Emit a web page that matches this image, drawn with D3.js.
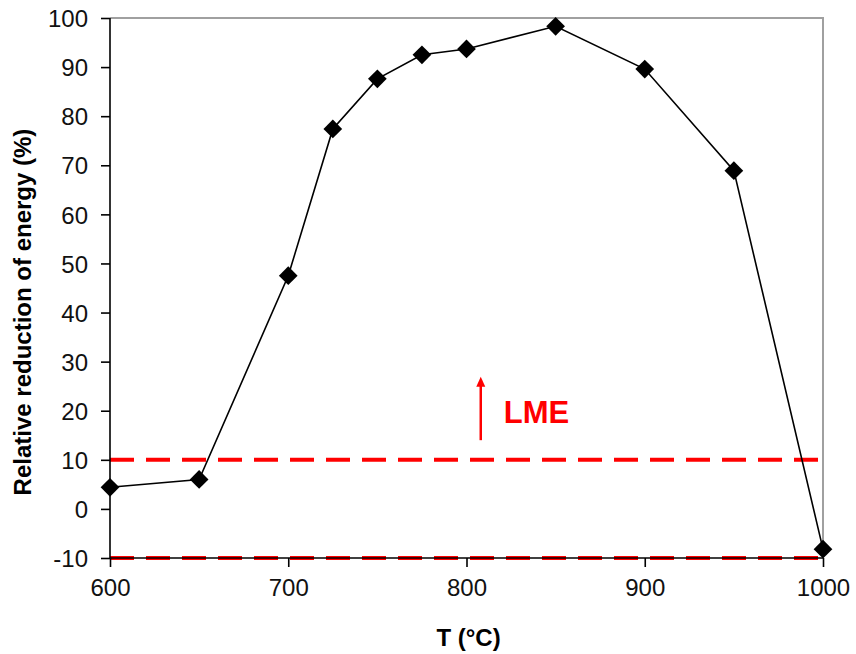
<!DOCTYPE html>
<html>
<head>
<meta charset="utf-8">
<script src="https://cdn.jsdelivr.net/npm/d3@7"></script>
<style>
  html, body { margin: 0; padding: 0; background: #fff; }
  svg { display: block; font-family: "Liberation Sans", Arial, sans-serif; }
</style>
</head>
<body>
<svg id="chart" width="856" height="654"></svg>
<script>
// Data
const temperatures = [600, 650, 700, 725, 750, 775, 800, 850, 900, 950, 1000];
const reduction = [4.4, 6.0, 47.5, 77.4, 87.6, 92.5, 93.7, 98.3, 89.6, 68.9, -8.2];
const xTicks = [600, 700, 800, 900, 1000];
const yTicks = [-10, 0, 10, 20, 30, 40, 50, 60, 70, 80, 90, 100];
const limitLines = [10, -10];
const xTitle = "T (°C)";
const yTitle = "Relative reduction of energy (%)";
const annotation = { label: "LME", x: 808, yFrom: 14, yTo: 26.5 };

const W = 856, H = 654;
const margin = { top: 18, right: 33, bottom: 96, left: 110 };
const svg = d3.select("#chart");
const iw = W - margin.left - margin.right;
const ih = H - margin.top - margin.bottom;
const g = svg.append("g").attr("transform", `translate(${margin.left},${margin.top})`);

const x = d3.scaleLinear().domain([600, 1000]).range([0, iw]);
const y = d3.scaleLinear().domain([-10, 100]).range([ih, 0]);

// frame top/right
g.append("path")
  .attr("d", `M0,0H${iw}V${ih}`)
  .attr("fill", "none").attr("stroke", "#a0a0a0").attr("stroke-width", 2);

// limit lines
g.selectAll(".lim").data(limitLines).join("line")
  .attr("x1", 0).attr("x2", iw - 2)
  .attr("y1", d => y(d)).attr("y2", d => y(d))
  .attr("stroke", "#ff0000").attr("stroke-width", 4)
  .attr("stroke-dasharray", "24 12");

// axes
const fmt = d => String(d);
const xAxis = g.append("g").attr("transform", `translate(0,${ih})`)
  .call(d3.axisBottom(x).tickValues(xTicks).tickSize(9).tickPadding(12).tickFormat(fmt));
const yAxis = g.append("g")
  .call(d3.axisLeft(y).tickValues(yTicks).tickSize(9).tickPadding(13).tickFormat(fmt));
[xAxis, yAxis].forEach(a => {
  a.select(".domain").attr("stroke", "#000").attr("stroke-width", 1.6);
  a.selectAll(".tick line").attr("stroke", "#000").attr("stroke-width", 1.6);
  a.selectAll(".tick text").attr("fill", "#111").attr("font-size", 24)
    .attr("font-family", "Liberation Sans, Arial, sans-serif");
});
yAxis.select(".domain").attr("d", `M0,${ih}V0`);
xAxis.select(".domain").attr("d", `M0,0H${iw}`);
yAxis.selectAll(".tick text").attr("dy", "0.36em");
xAxis.selectAll(".tick text").attr("dy", "0.72em");

// line
const line = d3.line().x((d, i) => x(temperatures[i])).y(d => y(d));
g.append("path").datum(reduction)
  .attr("d", line).attr("fill", "none")
  .attr("stroke", "#000").attr("stroke-width", 1.6);

// markers
g.selectAll(".pt").data(reduction).join("path")
  .attr("d", d3.symbol(d3.symbolSquare, 175)())
  .attr("transform", (d, i) => `translate(${x(temperatures[i])},${y(d)}) rotate(45)`)
  .attr("fill", "#000");

// annotation arrow
const ax = x(annotation.x);
g.append("line")
  .attr("x1", ax).attr("x2", ax)
  .attr("y1", y(annotation.yFrom)).attr("y2", y(annotation.yTo) + 6)
  .attr("stroke", "#ff0000").attr("stroke-width", 2.5);
g.append("path")
  .attr("d", `M${ax},${y(annotation.yTo) - 2}L${ax - 4.5},${y(annotation.yTo) + 8}L${ax + 4.5},${y(annotation.yTo) + 8}Z`)
  .attr("fill", "#ff0000");
g.append("text")
  .attr("x", ax + 23).attr("y", y(annotation.yFrom) - 17)
  .attr("fill", "#ff0000").attr("font-size", 31).attr("font-weight", "bold")
  .text(annotation.label);

// axis titles
svg.append("text")
  .attr("x", margin.left + iw / 2 + 2).attr("y", 646)
  .attr("text-anchor", "middle").attr("font-size", 24).attr("font-weight", "bold")
  .attr("fill", "#000").text(xTitle);
svg.append("text")
  .attr("transform", `translate(31,${margin.top + ih / 2 + 24}) rotate(-90)`)
  .attr("text-anchor", "middle").attr("font-size", 24).attr("font-weight", "bold")
  .attr("fill", "#000").text(yTitle);
</script>
</body>
</html>
